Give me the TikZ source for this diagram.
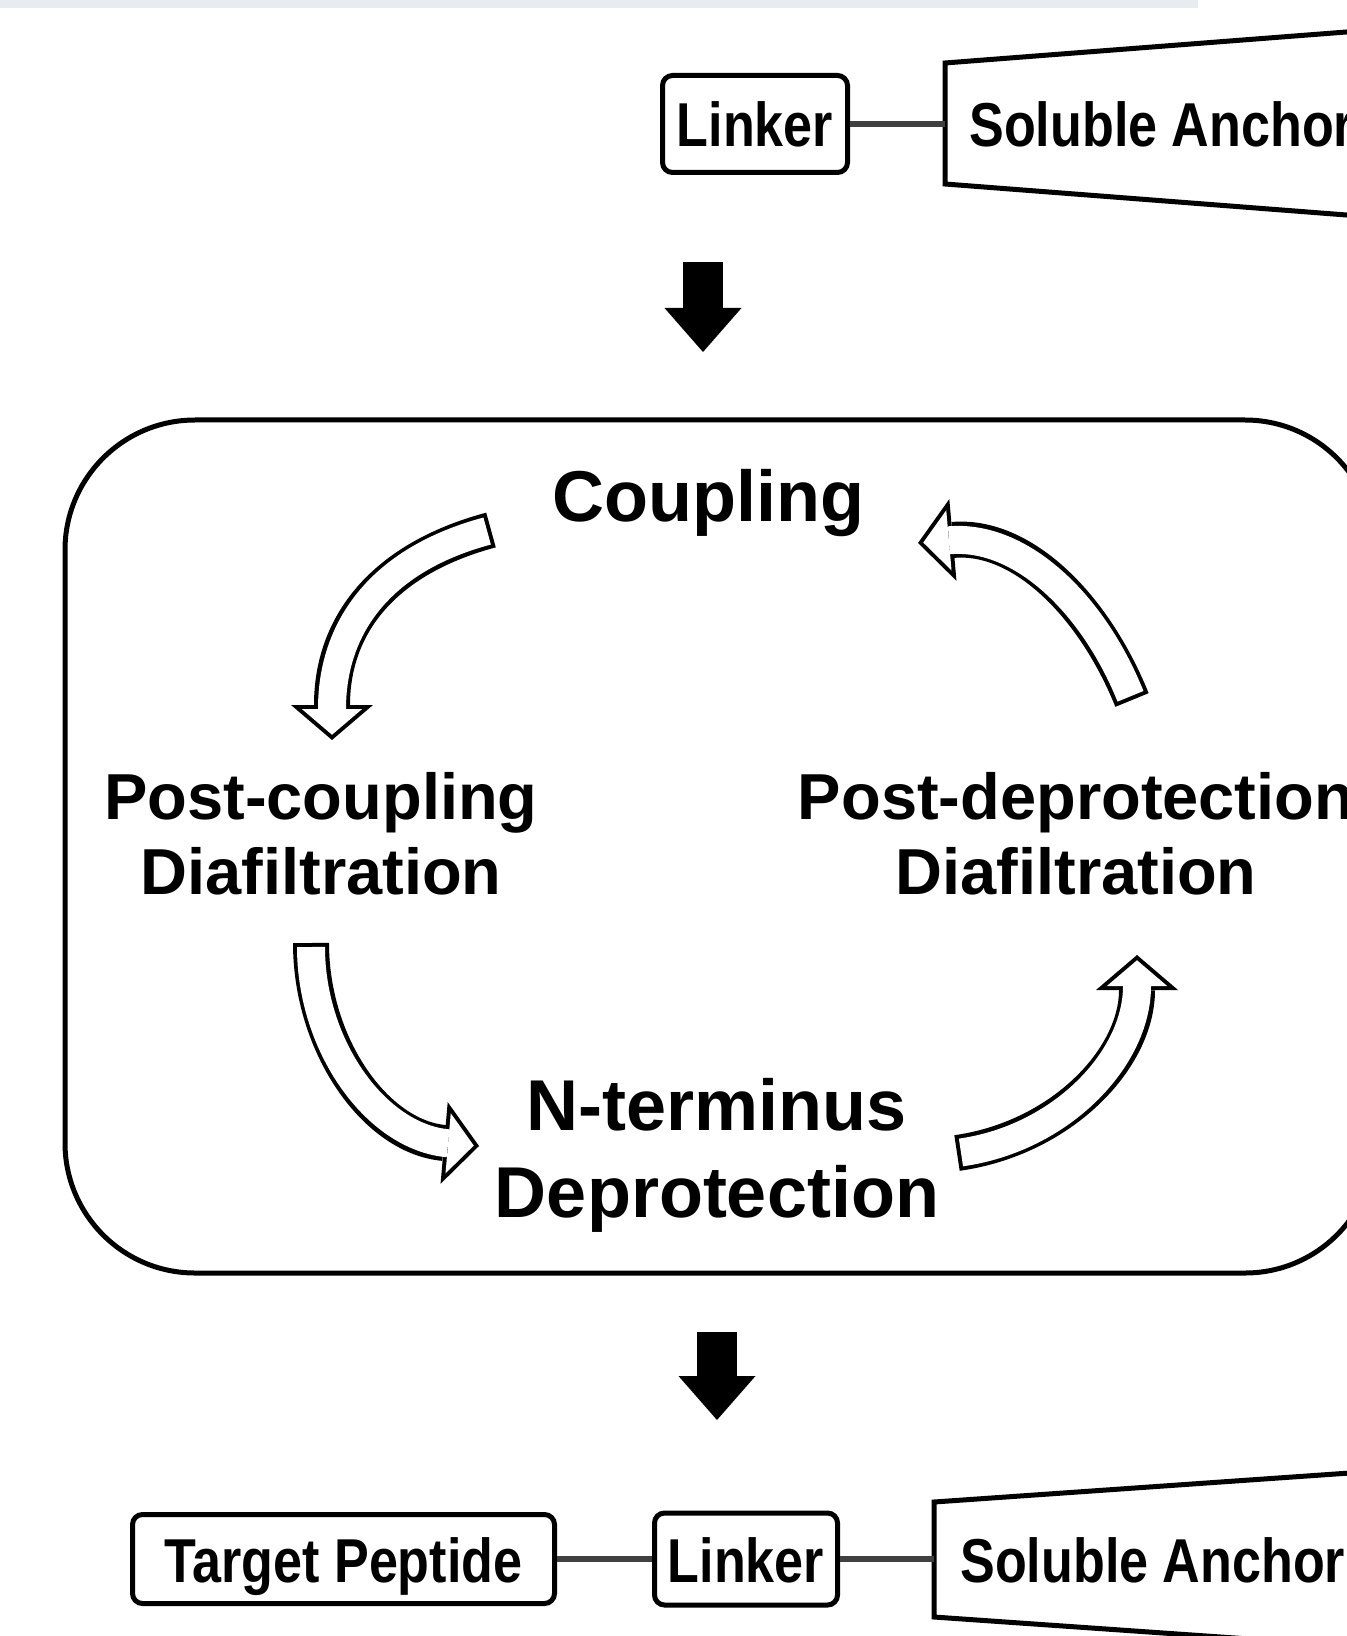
\documentclass[tikz,border=0pt]{standalone}
\usepackage{fontspec}
\setmainfont{Liberation Sans}
\newfontfamily\narrowfont[FakeStretch=0.84]{Liberation Sans}
\usetikzlibrary{arrows.meta}
\definecolor{barcolor}{RGB}{231,236,241}
\tikzset{
    line/.style={
        line width=2.5pt
    },
    box/.style={
        line,
        draw,
        rounded corners=5pt,
        inner sep=0pt,
        text height=23pt,
        text depth=0pt,
        font=\narrowfont\bfseries\fontsize{31pt}{37pt}\selectfont
    },
    anchortext/.style={
        anchor=base west,
        inner sep=0pt,
        font=\narrowfont\bfseries\fontsize{31pt}{37pt}\selectfont
    },
    stage/.style={
        align=center,
        anchor=base,
        inner sep=0pt,
        font=\bfseries\fontsize{36pt}{43.5pt}\selectfont
    },
    substage/.style={
        stage,
        font=\bfseries\fontsize{32.5pt}{37.5pt}\selectfont
    },
    link/.style={
        line width=2.8pt,
        black!75
    },
    blockarrow/.style={
        line width=20pt,
        -{Triangle[length=22pt, width=38.5pt, line width=0pt]}
    },
    cyclearrow/.style={
        line width=18pt,
        -{Triangle[length=17.5pt, width=41pt, line width=0pt]},
        postaction={
            draw=white, line width=14pt,
            shorten <=2pt, shorten >=2.63pt,
            -{Triangle[length=12.87pt, width=30.15pt, line width=0pt]}
        }
    }
}

\begin{document}
\begin{tikzpicture}[x=0.5pt, y=0.5pt]
    \useasboundingbox (0, 0) rectangle (1347, -1636);
    \clip (0, 0) rectangle (1347, -1636);
    \fill [barcolor] (0, 0) rectangle (1198, -8);
    % Start:
    \begin{scope}
        \node [box, minimum width=92.5pt, minimum height=48.5pt] (linkA) at (755, -124) {Linker};
        \coordinate (trapA) at (945, -124);
        \draw [line] (1450, -24) -- (945, -63) -- (945, -184) -- (1450, -223);
        \node [anchortext] (anchorA) at (969, -147) {Soluble Anchor};
        \draw [link] (linkA) -- (trapA);
        \coordinate (downA) at (703, -262);
        \coordinate (loopA) at (703, -352);
        \draw [blockarrow] (downA) -- (loopA);
    \end{scope}
    % Cycle:
    \begin{scope}
        \draw [line, rounded corners=65pt] (65, -420) rectangle (1375, -1273);
        \node [stage] (coupling) at (708, -521) {Coupling};
        \node [substage] (postc) at (321, -894) {Post-coupling\\Diafiltration};
        \node [substage] (postd) at (1076, -894) {Post-deprotection\\Diafiltration};
        \node [stage] (deprot) at (717, -1217) {N-terminus\\Deprotection};
        \coordinate (c1) at (491, -530);
        \coordinate (c2) at (332, -740);
        \coordinate (c3) at (311, -943);
        \coordinate (c4) at (479, -1146);
        \coordinate (c5) at (957, -1153);
        \coordinate (c6) at (1137, -955);
        \coordinate (c7) at (1132, -700);
        \coordinate (c8) at (918, -543);
        \draw [cyclearrow] (c1) to [out=195, in=90, looseness=1.1] (c2);
        \draw [cyclearrow] (c3) to [out=270, in=175] (c4);
        \draw [cyclearrow] (c5) to [out=8, in=270] (c6);
        \draw [cyclearrow] (c7) to [out=112, in=5] (c8);
    \end{scope}
    % End:
    \begin{scope}
        \coordinate (downB) at (717, -1332);
        \coordinate (loopB) at (717, -1420);
        \draw [blockarrow] (downB) -- (loopB);
        \node [box, minimum width=211pt, minimum height=44.5pt] (target) at (343.5, -1559) {Target Peptide};
        \node [box, minimum width=91.5pt, minimum height=46pt] (linkB) at (746, -1559) {Linker};
        \coordinate (trapB) at (934, -1559);
        \draw [line] (1450, -1466) -- (934, -1502) -- (934, -1617) -- (1450, -1653);
        \node [anchortext] (anchorB) at (960, -1582) {Soluble Anchor};
        \draw [link] (target) -- (linkB);
        \draw [link] (linkB) -- (trapB);
    \end{scope}
\end{tikzpicture}
\end{document}
